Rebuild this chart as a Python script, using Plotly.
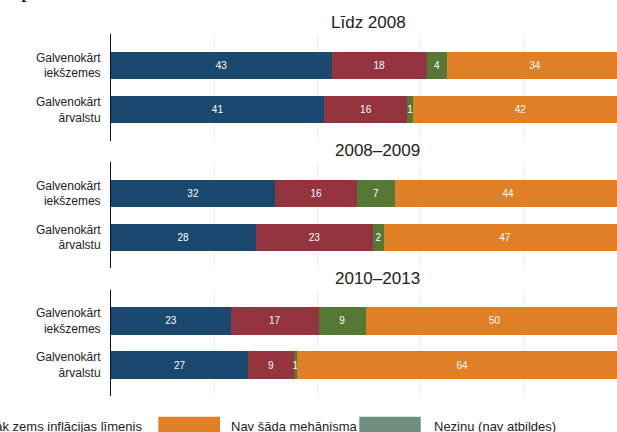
import plotly.graph_objects as go

W, H = 617, 432
FONT = "Liberation Sans, Arial, sans-serif"

# ---- data ----
periods = ["Līdz 2008", "2008–2009", "2010–2013"]
categories = ["Galvenokārt<br>iekšzemes", "Galvenokārt<br>ārvalstu"]

series_names = ["Indeksācija", "Daļēja indeksācija", "Pārāk zems inflācijas līmenis", "Nav šāda mehānisma"]
# values ordered: (period1: iekšzemes, ārvalstu), (period2: ...), (period3: ...)
blue_vals = [42.8, 41.3, 31.8, 28.0, 23.2, 26.6]
red_vals = [18.3, 16.1, 15.9, 22.8, 17.0, 8.8]
green_vals = [4.0, 1.1, 7.2, 2.0, 9.1, 0.6]
orange_vals = [34.0, 41.6, 44.0, 47.0, 50.0, 64.0]
series_values = [blue_vals, red_vals, green_vals, orange_vals]

legend_labels = ["Pārāk zems inflācijas līmenis", "Nav šāda mehānisma", "Nezinu (nav atbildes)"]

# ---- styles ----
colors = ["#1B486E", "#93343F", "#557835", "#E17F27"]
legend_colors = ["#E17F27", "#6E8E80"]
GRID = "#EDF1F2"
TXT = "#222222"

# layout geometry (pixels)
PLOT_LEFT = 111
PX_PER_UNIT = 5.165
X_MAX = (W - PLOT_LEFT) / PX_PER_UNIT
panel_px = [(34.4, 140.6), (162.3, 268.3), (290.0, 396.0)]
title_px = [(368.0, 22.5), (377.5, 151.0), (377.5, 278.0)]


def px_x(v):
    return v / W


def px_y(v):
    return 1 - v / H


fig = go.Figure()
for pi, period in enumerate(periods):
    xa = "x" if pi == 0 else f"x{pi + 1}"
    ya = "y" if pi == 0 else f"y{pi + 1}"
    for name, vals, color in zip(series_names, series_values, colors):
        fig.add_trace(go.Bar(
            x=vals[2 * pi:2 * pi + 2], y=categories, orientation="h",
            name=name, marker=dict(color=color, line=dict(width=0)),
            texttemplate="%{x:.0f}", textposition="inside",
            insidetextanchor="middle",
            textfont=dict(color="white", size=10, family=FONT),
            xaxis=xa, yaxis=ya, showlegend=False, hoverinfo="skip",
        ))

layout = dict(
    width=W, height=H,
    margin=dict(l=0, r=0, t=0, b=0, autoexpand=False),
    paper_bgcolor="white", plot_bgcolor="white",
    barmode="stack", bargap=0.384,
    uniformtext=dict(mode="show", minsize=10),
    font=dict(family=FONT, color=TXT),
    showlegend=False,
)
for pi in range(3):
    sfx = "" if pi == 0 else str(pi + 1)
    top, bot = panel_px[pi]
    layout[f"xaxis{sfx}"] = dict(
        domain=[px_x(PLOT_LEFT), 1], range=[0, X_MAX],
        anchor=f"y{sfx}", tick0=0, dtick=20,
        showgrid=True, gridcolor=GRID, gridwidth=1,
        showticklabels=False, zeroline=False, showline=False, ticks="",
    )
    layout[f"yaxis{sfx}"] = dict(
        domain=[px_y(bot), px_y(top)], anchor=f"x{sfx}",
        type="category", range=[1.7, -0.7],
        showline=True, linecolor="#111111", linewidth=1,
        showgrid=False, zeroline=False, ticks="",
        tickfont=dict(size=12, color=TXT, family=FONT),
        ticklabelstandoff=7,
    )
fig.update_layout(**layout)

annotations = []
for (tx, ty), period in zip(title_px, periods):
    annotations.append(dict(
        x=px_x(tx), y=px_y(ty), xref="paper", yref="paper",
        text=period, showarrow=False, xanchor="center", yanchor="middle",
        font=dict(size=17, color=TXT, family=FONT),
    ))

# legend (partially visible, cropped at the edges)
annotations.append(dict(x=px_x(144), y=px_y(426), xref="paper", yref="paper",
                        text=legend_labels[0], showarrow=False,
                        xanchor="right", yanchor="middle",
                        font=dict(size=13, color=TXT, family=FONT)))
swatches = [(158.3, 220.0), (359.3, 420.7)]
text_x = [228.5, 432.0]
shapes = []
for (x0, x1), col, lab, tx in zip(swatches, legend_colors, legend_labels[1:], text_x):
    shapes.append(dict(type="rect", xref="paper", yref="paper",
                       x0=px_x(x0), x1=px_x(x1), y0=px_y(416.7), y1=px_y(440),
                       fillcolor=col, line=dict(width=0)))
    annotations.append(dict(x=px_x(tx), y=px_y(426), xref="paper", yref="paper",
                            text=lab, showarrow=False, xanchor="left", yanchor="middle",
                            font=dict(size=13, color=TXT, family=FONT)))

# fragment of page text cropped at the top (only the descender is visible)
annotations.append(dict(x=px_x(18.5), y=px_y(4.5), xref="paper", yref="paper",
                        text="p", showarrow=False, xanchor="left", yanchor="bottom",
                        font=dict(size=24, color="#000000", family="Liberation Serif, serif")))

fig.update_layout(annotations=annotations, shapes=shapes)
fig.write_html(
    "out.html",
    config={"displayModeBar": False},
    post_script="document.body.style.margin='0';document.body.style.padding='0';",
)
